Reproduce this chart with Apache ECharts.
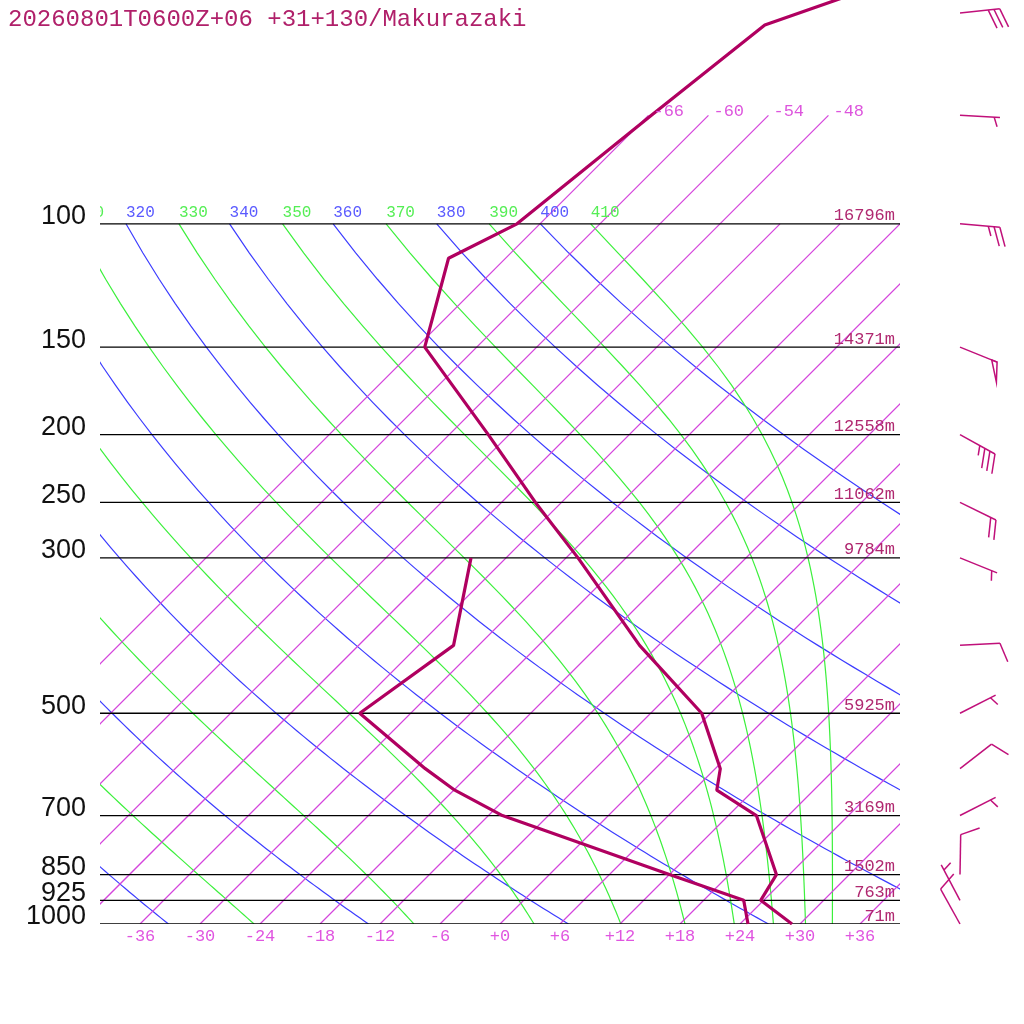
<!DOCTYPE html>
<html>
<head>
<meta charset="utf-8">
<title>Makurazaki skew-T</title>
<script src="https://cdn.jsdelivr.net/npm/echarts@6.0.0/dist/echarts.min.js"></script>
<style>
html, body { margin: 0; padding: 0; background: #fff; }
#chart { width: 1024px; height: 1024px; }
</style>
</head>
<body>
<div id="chart"></div>
<script>
var titleText = '20260801T0600Z+06 +31+130/Makurazaki';

// drawn isobars (hPa) and their geopotential heights
var levels = [100, 150, 200, 250, 300, 500, 700, 850, 925, 1000];
var heights = ['16796m', '14371m', '12558m', '11062m', '9784m', '5925m', '3169m', '1502m', '763m', '71m'];

// temperature profile
var tempP = [1000, 925, 850, 700, 644, 600, 500, 400, 300, 250, 200, 150, 112, 100, 70, 52, 45];
var tempT = [29.2, 23.7, 22.7, 14.8, 8.3, 6.5, -0.9, -13.9, -28.8, -38.6, -50.1, -65.2, -71.7, -68.3, -65.7, -63.4, -55.2];

// dew point profile
var dewP = [1000, 925, 850, 700, 644, 600, 500, 400, 300];
var dewT = [24.8, 22.0, 12.0, -10.6, -17.9, -23.0, -35.1, -32.5, -39.5];

// winds: direction (deg, from) and speed (kt)
var windP = [50, 70, 100, 150, 200, 250, 300, 400, 500, 600, 700, 850, 925, 1000];
var windDir = [84, 93, 95, 112, 119, 116, 112, 87, 63, 52, 63, 1, 332, 331];
var windSpd = [30, 5, 25, 50, 35, 20, 5, 10, 5, 10, 5, 10, 5, 10];

// background lines
var tempTicks = [-36, -30, -24, -18, -12, -6, 0, 6, 12, 18, 24, 30, 36];
var isotherms = [-66, -60, -54, -48, -42, -36, -30, -24, -18, -12, -6, 0, 6, 12, 18, 24, 30, 36];
var isothermsHigh = [-66, -60, -54, -48];
var dryThetas = [240, 260, 280, 300, 320, 340, 360, 380, 400];
var moistThetas = [250, 270, 290, 310, 330, 350, 370, 390, 410];
var thetaLabels = [310, 320, 330, 340, 350, 360, 370, 380, 390, 400, 410];

var P_TOP = 47.9;     // pressure at the top edge of the drawing
var SKEW = 70;        // degrees of skew per decade of pressure
var BARB_X = 46;      // station column of the wind barbs (axis units)

var BLUE = '#3c3cff', GREEN = '#3cf03c', ISO = '#d444dc', DARK = '#b00060';
var MONO = 'Liberation Mono';

function lg(p) { return Math.log10(p); }
function skewX(t, p) { return t + SKEW * Math.log10(1000 / p); }

function dryT(theta, p) {
    return theta * Math.pow(p / 1000, 0.2857) - 273.15;
}
function thetaE(tc, p) {
    var tk = tc + 273.15;
    var es = 6.112 * Math.exp(17.67 * tc / (tc + 243.5));
    if (es > 0.8 * p) return 1e6;
    var r = 0.622 * es / (p - es);
    return tk * Math.pow(1000 / p, 0.2854 * (1 - 0.28 * r)) *
        Math.exp((3.376 / tk - 0.00254) * r * 1000 * (1 + 0.81 * r));
}
function moistT(te, p) {
    var lo = -160, hi = 60, mid = 0;
    for (var i = 0; i < 60; i++) {
        mid = (lo + hi) / 2;
        if (thetaE(mid, p) < te) lo = mid; else hi = mid;
    }
    return mid;
}

// a set of polylines drawn by one custom series, each in its own colour
var pathSeries = function(paths, z) {
    return {
        type: 'custom',
        silent: true,
        clip: true,
        animation: false,
        z: z,
        data: paths.map(function(pa) { return pa.pts[0]; }),
        renderItem: function(params, api) {
            var pa = paths[params.dataIndex];
            return {
                type: 'polyline',
                shape: { points: pa.pts.map(function(v) { return api.coord(v); }) },
                style: { stroke: pa.color, lineWidth: pa.width, fill: null, opacity: 1 }
            };
        }
    };
};

var series = [];

var adiPaths = [];
dryThetas.forEach(function(th) {
    var d = [];
    for (var p = 1000; p >= 100; p -= 10) d.push([skewX(dryT(th, p), p), lg(p)]);
    adiPaths.push({ pts: d, color: BLUE, width: 1.2 });
});
moistThetas.forEach(function(th) {
    var d = [];
    for (var p = 1000; p >= 100; p -= 10) d.push([skewX(moistT(th, p), p), lg(p)]);
    adiPaths.push({ pts: d, color: GREEN, width: 1.2 });
});
series.push(pathSeries(adiPaths, 2));

var isoPaths = isotherms.map(function(t) {
    var top = isothermsHigh.indexOf(t) >= 0 ? 70 : 100;
    return { pts: [[skewX(t, 1000), lg(1000)], [skewX(t, top), lg(top)]], color: ISO, width: 1.25 };
});
series.push(pathSeries(isoPaths, 5));

var barPaths = levels.map(function(p) {
    return { pts: [[-40, lg(p)], [40, lg(p)]], color: '#000', width: 1.3 };
});
series.push(pathSeries(barPaths, 6));

var profileLine = function(data) {
    return {
        type: 'line', data: data, symbol: 'none', silent: true, clip: true, animation: false, z: 7,
        lineStyle: { color: DARK, width: 3.2 }
    };
};
series.push(profileLine(tempP.map(function(p, i) { return [skewX(tempT[i], p), lg(p)]; })));
series.push(profileLine(dewP.map(function(p, i) { return [skewX(dewT[i], p), lg(p)]; })));

// texts
var freeTexts = [];
var clipTexts = [];
levels.forEach(function(p, i) {
    freeTexts.push({ x: -40, y: lg(p), dx: -14, dy: -7, text: String(p), color: '#111',
        font: '27px "Liberation Sans"', align: 'right' });
    freeTexts.push({ x: 40, y: lg(p), dx: -5, dy: -8, text: heights[i], color: '#b02870',
        font: '17px "' + MONO + '"', align: 'right' });
});
isothermsHigh.forEach(function(t) {
    freeTexts.push({ x: skewX(t, 70), y: lg(70), dx: 5, dy: -4, text: String(t), color: '#dd55dd',
        font: '17px "' + MONO + '"', align: 'left' });
});
thetaLabels.forEach(function(th) {
    var dry = th % 20 === 0;
    var t = dry ? dryT(th, 100) : moistT(th, 100);
    clipTexts.push({ x: skewX(t, 100), y: lg(100), dx: 0, dy: -11, text: String(th),
        color: dry ? '#5a5aff' : '#55ee55', font: '16px "' + MONO + '"', align: 'left' });
});

var textSeries = function(items, clip) {
    return {
        type: 'custom',
        silent: true,
        clip: clip,
        animation: false,
        z: 8,
        data: items.map(function(it) { return [it.x, it.y]; }),
        renderItem: function(params, api) {
            var it = items[params.dataIndex];
            var pt = api.coord([it.x, it.y]);
            return {
                type: 'text',
                x: pt[0] + it.dx,
                y: pt[1] + it.dy,
                style: {
                    text: it.text, fill: it.color, font: it.font,
                    align: it.align, verticalAlign: 'middle',
                    textAlign: it.align, textVerticalAlign: 'middle'
                }
            };
        }
    };
};
series.push(textSeries(freeTexts, false));
series.push(textSeries(clipTexts, true));

// wind barbs
series.push({
    type: 'custom',
    silent: true,
    clip: false,
    animation: false,
    z: 9,
    data: windP.map(function(p, i) { return [BARB_X, lg(p), windDir[i], windSpd[i]]; }),
    renderItem: function(params, api) {
        var s = api.coord([api.value(0), api.value(1)]);
        var d = api.value(2) * Math.PI / 180, spd = api.value(3);
        var ux = Math.sin(d), uy = -Math.cos(d);
        var px = -uy, py = ux;
        var a = 70 * Math.PI / 180;
        var bx = Math.cos(a) * ux + Math.sin(a) * px, by = Math.cos(a) * uy + Math.sin(a) * py;
        var L = 40, B = 20, step = 5.8;
        var tip = [s[0] + L * ux, s[1] + L * uy];
        var st = { stroke: '#c0107a', lineWidth: 1.5, fill: null };
        var kids = [{ type: 'line', shape: { x1: s[0], y1: s[1], x2: tip[0], y2: tip[1] }, style: st }];
        var n50 = Math.floor(spd / 50), n10 = Math.floor((spd % 50) / 10), n5 = (spd % 10) >= 5 ? 1 : 0;
        var pos = 0, i, q;
        for (i = 0; i < n50; i++) {
            q = [tip[0] - pos * ux, tip[1] - pos * uy];
            kids.push({ type: 'polygon', shape: { points: [q, [q[0] + B * bx, q[1] + B * by],
                [tip[0] - (pos + step) * ux, tip[1] - (pos + step) * uy]] }, style: st });
            pos += step;
        }
        for (i = 0; i < n10; i++) {
            q = [tip[0] - pos * ux, tip[1] - pos * uy];
            kids.push({ type: 'line', shape: { x1: q[0], y1: q[1], x2: q[0] + B * bx, y2: q[1] + B * by }, style: st });
            pos += step;
        }
        if (n5) {
            if (pos === 0) pos = step;
            q = [tip[0] - pos * ux, tip[1] - pos * uy];
            kids.push({ type: 'line', shape: { x1: q[0], y1: q[1], x2: q[0] + B / 2 * bx, y2: q[1] + B / 2 * by }, style: st });
        }
        return { type: 'group', children: kids };
    }
});

var option = {
    animation: false,
    backgroundColor: '#fff',
    title: {
        text: titleText, left: 3, top: 3,
        textStyle: { fontFamily: MONO, fontSize: 24, fontWeight: 'normal', color: '#b0206a' }
    },
    grid: { left: 100, right: 124, top: 0, bottom: 100 },
    xAxis: {
        type: 'value', min: -40, max: 40,
        axisLine: { show: false }, axisTick: { show: false }, splitLine: { show: false },
        axisLabel: {
            customValues: tempTicks, margin: 4,
            color: '#e055e0', fontFamily: MONO, fontSize: 17,
            formatter: function(v) { return v >= 0 ? '+' + v : String(v); }
        }
    },
    yAxis: {
        type: 'value', inverse: true, min: lg(P_TOP), max: lg(1000), show: false
    },
    series: series
};

var chart = echarts.init(document.getElementById('chart'));
chart.setOption(option);
</script>
</body>
</html>
